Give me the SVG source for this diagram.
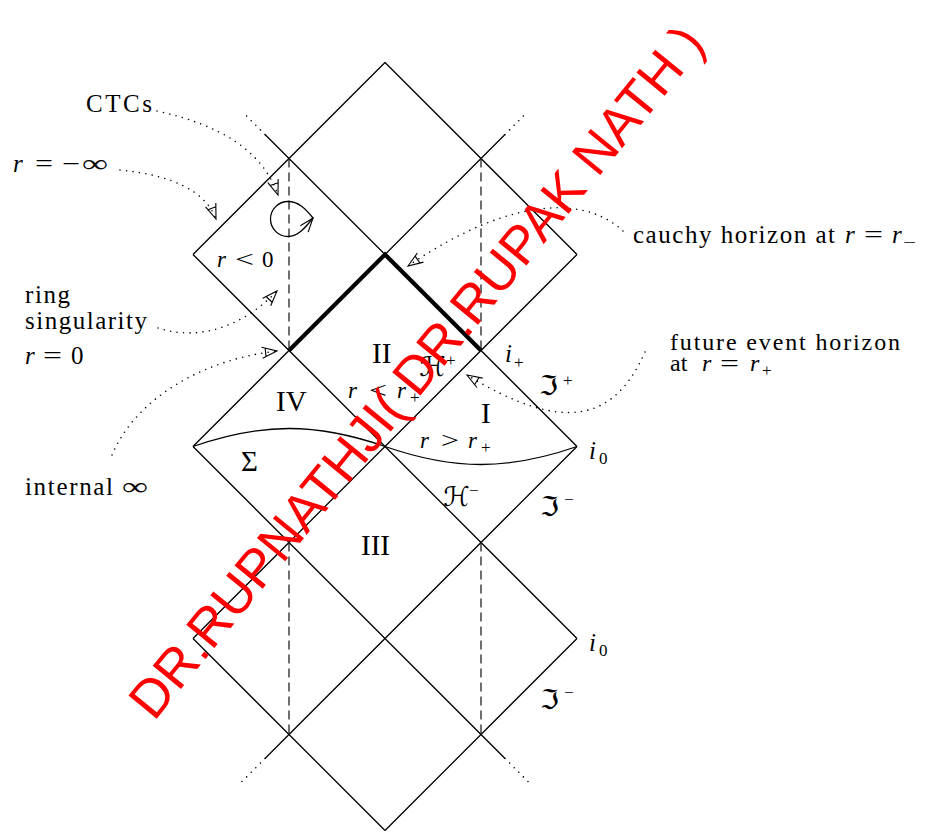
<svg xmlns="http://www.w3.org/2000/svg" width="930" height="834" viewBox="0 0 930 834">
<style>
.ln{stroke:#000;stroke-width:1.3;fill:none}
.thick{stroke:#000;stroke-width:4.2;fill:none;stroke-linejoin:miter}
.dash{stroke:#222;stroke-width:1.3;stroke-dasharray:9 5;fill:none}
.dot{stroke:#000;stroke-width:1.6;stroke-linecap:round;stroke-dasharray:0 6.5;fill:none}
.t{font-family:"Liberation Serif","Times New Roman",serif;font-size:25px;fill:#000}
.im{font-family:"Liberation Serif","Times New Roman",serif;font-style:italic;font-size:25px;fill:#000}
.in{font-size:23px}
.big{font-family:"Liberation Serif","Times New Roman",serif;font-size:29px;fill:#000}
.sub{font-family:"Liberation Serif","Times New Roman",serif;font-size:17px;fill:#000}
.sc{font-family:"DejaVu Serif","DejaVu Sans",serif;font-size:27px;fill:#000}
.wm{font-family:"Liberation Sans",Arial,sans-serif;font-size:53px;fill:#ff0000}
</style>
<defs>
<marker id="ah" markerUnits="userSpaceOnUse" markerWidth="20" markerHeight="16" viewBox="-18 -8 20 16" refX="0" refY="0" orient="auto">
<path d="M-15,-5.5 L0,0 L-15,5.5 M-11.5,-4.2 L-11.5,4.2" fill="none" stroke="#000" stroke-width="1.1"/>
</marker>
<marker id="av" markerUnits="userSpaceOnUse" markerWidth="20" markerHeight="16" viewBox="-18 -8 20 16" refX="0" refY="0" orient="auto">
<path d="M-14,-5 L0,0 L-14,5" fill="none" stroke="#000" stroke-width="1.1"/>
</marker>
</defs>
<rect width="930" height="834" fill="#fff"/>

<g id="spacetime">
<path class="ln" d="M265,134.5 L577,446.5 M505,134.5 L193,446.5 M385,62.5 L193,254.5 M385,62.5 L577,254.5 M193,254.5 L577,638.5 M577,254.5 L193,638.5 M577,446.5 L265,758.5 M193,446.5 L505,758.5 M193,638.5 L385,830.5 M577,638.5 L385,830.5"/>
<path class="dot" d="M265,134.5 L243,112.5 M505,134.5 L527,112.5 M265,758.5 L241,782.5 M505,758.5 L529,782.5"/>
<path class="thick" d="M289,350.5 L385,254.5 L481,350.5"/>
<path class="dash" d="M289,158.5 V350.5 M481,158.5 V350.5 M289,542.5 V734.5 M481,542.5 V734.5"/>
<path id="sigma-curve" class="ln" d="M193,446.5 C262,422.5 316,422.5 385,446.5 C454,470.5 508,470.5 577,446.5"/>
<path id="ctc-loop" class="ln" marker-end="url(#av)" d="M313,218 C305,208 298,201.5 288,201.5 A17.5,17.5 0 0 0 288,236.5 C298,236.5 305,228 313,218"/>
</g>

<g id="connectors">
<path class="dot" marker-end="url(#ah)" d="M157,111 C220,125 262,150 278,195"/>
<path class="dot" marker-end="url(#ah)" d="M120,170 C170,175 205,190 216,219"/>
<path class="dot" marker-end="url(#ah)" d="M158,328 C200,342 245,325 277,291"/>
<path class="dot" marker-end="url(#ah)" d="M112,455 C135,400 200,360 277,351"/>
<path class="dot" marker-end="url(#ah)" d="M623,231 C590,200 520,190 408,266"/>
<path class="dot" marker-end="url(#ah)" d="M645,352 C615,420 565,435 467,375"/>
</g>

<g id="label-ctcs"><text class="t" x="86" y="112" textLength="66">CTCs</text></g>
<g id="label-rminusinf">
<text class="im" x="13" y="172">r</text>
<text class="t" x="35" y="172" textLength="18" lengthAdjust="spacingAndGlyphs">=</text>
<text class="t" x="62" y="172" textLength="18" lengthAdjust="spacingAndGlyphs">−</text>
<text class="t" x="82" y="172" textLength="26" lengthAdjust="spacingAndGlyphs">∞</text>
</g>
<g id="label-ring">
<text class="t" x="25" y="303" textLength="45">ring</text>
<text class="t" x="25" y="329" textLength="122">singularity</text>
<text class="im" x="25" y="364">r</text>
<text class="t" x="43" y="364" textLength="19" lengthAdjust="spacingAndGlyphs">=</text>
<text class="t" x="71" y="364">0</text>
</g>
<g id="label-internal">
<text class="t" x="25" y="495" textLength="88">internal</text>
<text class="t" x="122" y="495" textLength="26" lengthAdjust="spacingAndGlyphs">∞</text>
</g>
<g id="label-cauchy">
<text class="t" x="633" y="243" textLength="202">cauchy horizon at</text>
<text class="im" x="845" y="243">r</text>
<text class="t" x="864" y="243" textLength="19" lengthAdjust="spacingAndGlyphs">=</text>
<text class="im" x="892" y="243">r</text>
<text class="sub" x="903" y="248" textLength="13" lengthAdjust="spacingAndGlyphs">−</text>
</g>
<g id="label-future">
<text class="t" x="670" y="350" textLength="230" style="font-size:24px">future event horizon</text>
<text class="t" x="670" y="371" style="font-size:24px">at</text>
<text class="im" x="702" y="371" style="font-size:24px">r</text>
<text class="t" x="720" y="371" textLength="19" lengthAdjust="spacingAndGlyphs" style="font-size:24px">=</text>
<text class="im" x="750" y="371" style="font-size:24px">r</text>
<text class="sub" x="762" y="376">+</text>
</g>

<g id="region-rlt0">
<text class="im in" x="217" y="267">r</text>
<text class="t in" x="235" y="267" textLength="19" lengthAdjust="spacingAndGlyphs">&lt;</text>
<text class="t in" x="262" y="267">0</text>
</g>
<g id="region-II"><text class="big" x="372" y="363">II</text></g>
<g id="region-IV"><text class="big" x="276" y="411">IV</text></g>
<g id="region-I"><text class="big" x="481" y="423">I</text></g>
<g id="region-III"><text class="big" x="361" y="555">III</text></g>
<g id="region-sigma"><text class="big" x="241" y="471">Σ</text></g>
<g id="label-rltrp">
<text class="im in" x="348" y="398">r</text>
<text class="t in" x="369" y="398" textLength="18" lengthAdjust="spacingAndGlyphs">&lt;</text>
<text class="im in" x="397" y="398">r</text>
<text class="sub" x="410" y="403">+</text>
</g>
<g id="label-rgtrp">
<text class="im in" x="420" y="448">r</text>
<text class="t in" x="441" y="448" textLength="18" lengthAdjust="spacingAndGlyphs">&gt;</text>
<text class="im in" x="468" y="448">r</text>
<text class="sub" x="481" y="453">+</text>
</g>
<g id="label-Hplus"><text class="sc" x="419" y="376">ℋ</text><text class="sub" x="446" y="366">+</text></g>
<g id="label-Hminus"><text class="sc" x="443" y="506">ℋ</text><text class="sub" x="469" y="496">−</text></g>
<g id="label-scriplus"><text class="sc" x="539" y="395">ℑ</text><text class="sub" x="563" y="386">+</text></g>
<g id="label-scriminus1"><text class="sc" x="540" y="516">ℑ</text><text class="sub" x="564" y="505">−</text></g>
<g id="label-scriminus2"><text class="sc" x="540" y="709">ℑ</text><text class="sub" x="564" y="698">−</text></g>
<g id="label-iplus"><text class="im" x="505" y="362">i</text><text class="sub" x="514" y="368">+</text></g>
<g id="label-i0a"><text class="im" x="589" y="459">i</text><text class="sub" x="599" y="464">0</text></g>
<g id="label-i0b"><text class="im" x="589" y="651">i</text><text class="sub" x="599" y="656">0</text></g>

<g id="watermark"><text class="wm" transform="translate(154,722) rotate(-50.8)">DR.RUPNATHJI( DR.RUPAK NATH )</text></g>
</svg>
